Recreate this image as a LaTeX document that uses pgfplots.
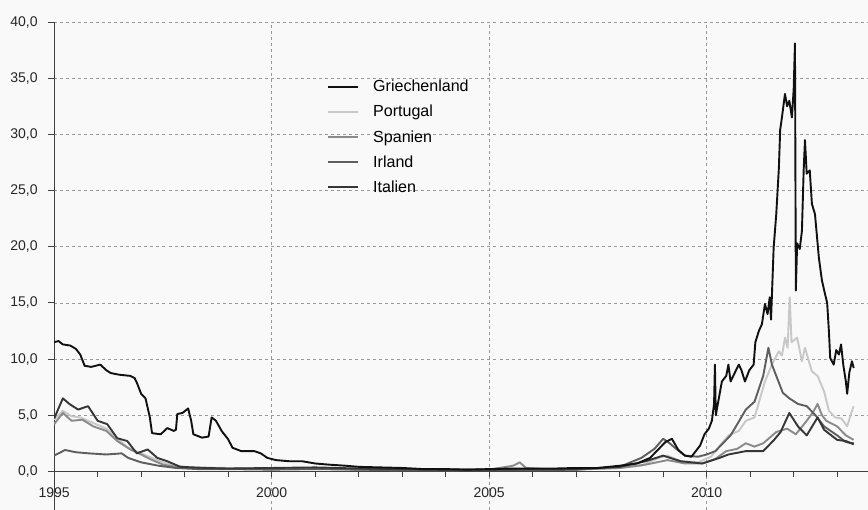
\documentclass[border=0pt]{standalone}
\usepackage{pgfplots}
\pgfplotsset{compat=1.18}
\usepackage{fontspec}
\setmainfont{Liberation Sans}
\definecolor{bg}{HTML}{F9F9F9}
\definecolor{cGR}{HTML}{111111}
\definecolor{cPT}{HTML}{C8C8C8}
\definecolor{cES}{HTML}{8A8A8A}
\definecolor{cIE}{HTML}{5E5E5E}
\definecolor{cIT}{HTML}{363636}
\pagecolor{bg}

\begin{document}
\begin{tikzpicture}
\begin{axis}[
  scale only axis,
  width=811pt, height=486pt,
  xmin=1995, xmax=2013.7,
  ymin=-3.4, ymax=40,
  axis x line*=middle,
  axis y line*=left,
  hide obscured x ticks=false,
  hide obscured y ticks=false,
  axis line style={color=black!75, line width=0.8pt},
  xtick={1995,2000,2005,2010},
  xticklabels={1995,2000,2005,2010},
  minor xtick={1996,...,2013},
  ytick={0,5,...,40},
  xtick align=outside,
  ytick align=outside,
  major tick length=6pt,
  minor tick length=6pt,
  every tick/.style={color=black!75, line width=0.8pt},
  every minor tick/.style={color=black!75, line width=0.8pt},
  xmajorgrids, ymajorgrids,
  major grid style={dashed, color=black!40, dash pattern=on 3pt off 3pt, line width=0.6pt},
  yticklabel style={xshift=-7pt, /pgf/number format/.cd, fixed, fixed zerofill, precision=1, use comma, assume math mode=true},
  xticklabel style={yshift=-7pt},
  tick label style={font=\fontsize{14}{16}\selectfont, color=black!85},
  legend style={at={(axis cs:2001.2,35.2)}, anchor=north west, draw=none, fill=none,
    font=\fontsize{16}{18}\selectfont, row sep=8pt, cells={anchor=west},
    /tikz/every odd column/.append style={column sep=12pt}},
  legend image code/.code={\draw[#1, line width=2pt] (0pt,0pt) -- (30pt,0pt);},
  every axis plot/.append style={line width=1.9pt, line join=round},
]
\addlegendimage{cGR}\addlegendentry{Griechenland}
\addlegendimage{cPT}\addlegendentry{Portugal}
\addlegendimage{cES}\addlegendentry{Spanien}
\addlegendimage{cIE}\addlegendentry{Irland}
\addlegendimage{cIT}\addlegendentry{Italien}

% Portugal
\addplot[cPT, forget plot] table {
1995.00 4.6
1995.20 5.4
1995.40 4.9
1995.60 4.8
1995.90 4.3
1996.20 3.8
1996.45 2.9
1996.70 2.1
1997.00 1.6
1997.25 1.2
1997.50 0.8
1997.80 0.5
1998.20 0.35
1999.00 0.3
2000.00 0.3
2001.00 0.3
2002.00 0.25
2003.00 0.15
2004.00 0.15
2005.00 0.15
2006.00 0.15
2007.00 0.2
2008.00 0.3
2008.50 0.5
2008.90 1.2
2009.10 1.4
2009.40 0.9
2009.80 0.8
2010.10 1.3
2010.35 2.5
2010.50 3.2
2010.74 3.6
2010.90 4.5
2011.10 4.8
2011.34 8.0
2011.50 9.5
2011.66 10.7
2011.73 10.3
2011.80 11.9
2011.86 11.0
2011.91 15.5
2011.95 11.5
2012.08 11.9
2012.19 9.8
2012.26 11.0
2012.35 9.8
2012.42 8.9
2012.55 8.5
2012.70 7.1
2012.81 5.4
2012.95 4.8
2013.10 4.7
2013.23 4.0
2013.34 5.4
2013.38 5.8
};

% Spanien
\addplot[cES, forget plot] table {
1995.00 4.2
1995.20 5.2
1995.40 4.5
1995.65 4.6
1995.90 4.0
1996.20 3.6
1996.45 2.7
1996.75 1.95
1997.00 1.5
1997.20 1.1
1997.50 0.6
1997.80 0.4
1998.20 0.3
1999.00 0.25
2000.00 0.2
2001.00 0.25
2002.00 0.15
2003.00 0.1
2004.00 0.1
2005.00 0.15
2005.55 0.5
2005.70 0.8
2005.85 0.3
2006.50 0.15
2007.00 0.15
2008.00 0.3
2008.60 0.6
2009.10 1.0
2009.50 0.7
2009.90 0.7
2010.20 1.1
2010.45 1.8
2010.70 2.0
2010.90 2.5
2011.10 2.2
2011.30 2.5
2011.60 3.5
2011.85 3.8
2012.05 3.3
2012.30 4.5
2012.45 5.3
2012.55 6.0
2012.65 5.0
2012.75 4.5
2013.00 4.0
2013.20 3.2
2013.38 2.8
};

% Irland
\addplot[cIE, forget plot] table {
1995.00 1.4
1995.25 1.9
1995.50 1.7
1995.80 1.6
1996.20 1.5
1996.55 1.6
1996.70 1.2
1997.00 0.8
1997.40 0.5
1997.80 0.3
1998.30 0.2
1999.00 0.2
2000.00 0.15
2001.00 0.2
2002.00 0.15
2003.00 0.1
2004.00 0.1
2005.00 0.1
2006.00 0.1
2007.00 0.15
2008.00 0.4
2008.50 1.2
2008.80 2.0
2009.00 2.9
2009.15 2.5
2009.30 2.0
2009.50 1.4
2009.80 1.3
2010.00 1.5
2010.20 1.8
2010.40 2.6
2010.55 3.2
2010.75 4.5
2010.90 5.5
2011.10 6.2
2011.30 8.5
2011.42 11.0
2011.50 9.5
2011.60 8.5
2011.75 7.0
2011.90 6.5
2012.10 6.0
2012.30 5.8
2012.50 5.0
2012.70 4.0
2013.00 3.2
2013.20 2.6
2013.38 2.5
};

% Italien
\addplot[cIT, forget plot] table {
1995.00 4.7
1995.20 6.5
1995.35 6.0
1995.55 5.5
1995.78 5.8
1996.00 4.5
1996.22 4.2
1996.45 2.95
1996.68 2.7
1996.90 1.6
1997.15 1.95
1997.37 1.2
1997.60 0.9
1997.90 0.4
1998.50 0.3
1999.00 0.25
2000.00 0.3
2001.00 0.35
2002.00 0.25
2003.00 0.2
2004.00 0.15
2005.00 0.15
2006.00 0.2
2007.00 0.2
2008.00 0.4
2008.60 0.9
2009.00 1.4
2009.40 0.9
2009.90 0.7
2010.30 1.2
2010.50 1.5
2010.90 1.8
2011.30 1.8
2011.55 2.8
2011.70 3.5
2011.90 5.2
2012.10 4.0
2012.30 3.2
2012.55 4.8
2012.70 3.7
2013.00 2.8
2013.20 2.7
2013.38 2.4
};

% Griechenland
\addplot[cGR, forget plot] table {
1995.00 11.5
1995.10 11.6
1995.20 11.3
1995.37 11.2
1995.50 10.9
1995.60 10.4
1995.70 9.4
1995.85 9.3
1996.06 9.5
1996.20 9.0
1996.30 8.75
1996.50 8.6
1996.75 8.5
1996.85 8.3
1996.90 7.9
1997.00 6.9
1997.10 6.5
1997.20 4.8
1997.25 3.4
1997.45 3.3
1997.60 3.85
1997.75 3.6
1997.80 3.7
1997.83 5.1
1997.95 5.2
1998.08 5.6
1998.15 4.5
1998.20 3.3
1998.40 3.0
1998.55 3.1
1998.62 4.8
1998.72 4.5
1998.85 3.6
1999.00 2.85
1999.10 2.1
1999.30 1.8
1999.60 1.8
1999.75 1.6
1999.90 1.2
2000.10 1.0
2000.40 0.9
2000.70 0.9
2001.00 0.7
2001.30 0.6
2001.70 0.5
2002.00 0.4
2002.50 0.35
2003.00 0.3
2003.50 0.2
2004.00 0.2
2004.50 0.15
2005.00 0.2
2005.50 0.25
2006.00 0.25
2006.50 0.25
2007.00 0.3
2007.50 0.3
2008.00 0.5
2008.40 0.7
2008.70 1.2
2008.90 2.0
2009.05 2.6
2009.20 2.9
2009.35 1.9
2009.50 1.4
2009.65 1.3
2009.75 1.8
2009.85 2.3
2009.95 3.3
2010.05 3.8
2010.12 4.5
2010.17 6.0
2010.19 9.5
2010.21 5.0
2010.28 6.5
2010.35 8.0
2010.45 8.5
2010.50 9.5
2010.55 8.0
2010.65 8.8
2010.74 9.5
2010.80 9.0
2010.88 8.0
2010.98 9.0
2011.08 9.5
2011.12 11.5
2011.20 12.5
2011.27 13.1
2011.34 14.9
2011.40 14.0
2011.45 15.5
2011.48 13.5
2011.54 19.9
2011.60 22.9
2011.66 27.0
2011.69 30.4
2011.73 31.5
2011.80 33.6
2011.85 32.5
2011.90 33.0
2011.96 31.5
2012.00 34.0
2012.03 38.1
2012.05 16.1
2012.08 20.3
2012.14 19.8
2012.19 21.4
2012.23 26.8
2012.26 29.5
2012.30 26.5
2012.37 26.8
2012.42 23.8
2012.49 22.9
2012.58 19.0
2012.65 17.0
2012.72 15.8
2012.77 15.0
2012.81 12.5
2012.84 10.1
2012.92 9.5
2012.98 10.8
2013.04 10.4
2013.09 11.3
2013.14 9.5
2013.20 8.0
2013.23 6.9
2013.28 8.8
2013.34 9.8
2013.38 9.2
};
\end{axis}
\path (current axis.north west) ++(0pt,22pt);
\path (current axis.west) ++(-54pt,0pt);
\end{tikzpicture}
\end{document}
